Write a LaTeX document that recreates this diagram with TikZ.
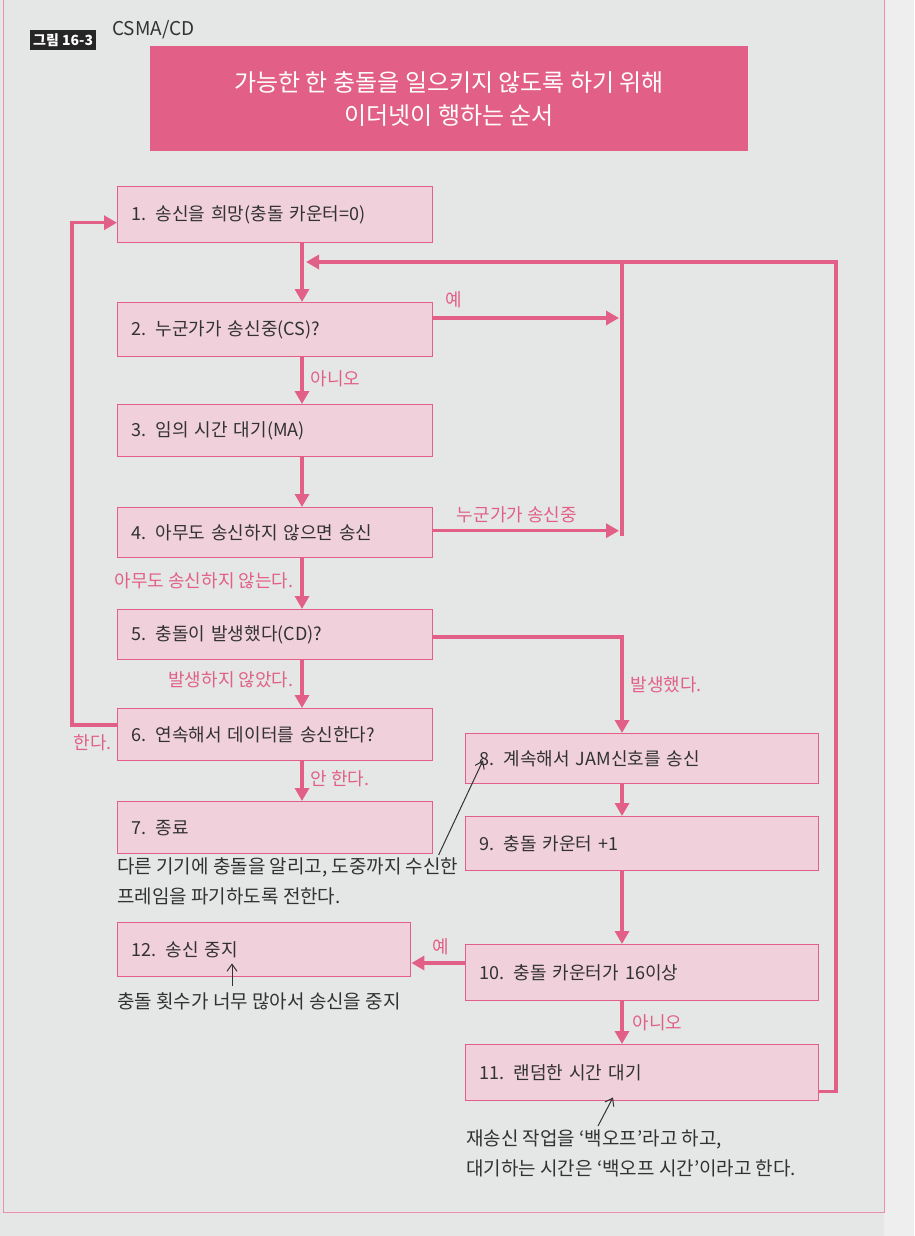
\documentclass[tikz,border=0pt]{standalone}
\usepackage{fontspec}
\setmainfont{Noto Sans CJK KR}
\usetikzlibrary{arrows.meta,calc}
\definecolor{pk}{RGB}{226,96,136}
\definecolor{pkfill}{RGB}{240,208,218}
\definecolor{pagebg}{RGB}{229,231,230}
\definecolor{ink}{RGB}{50,50,50}
\tikzset{
  stepbox/.style={draw=pk, line width=1.4pt, fill=pkfill, anchor=north west,
    minimum width=315pt, inner xsep=14pt, text width=287pt, align=left,
    font=\fontsize{18}{21}\selectfont, text=ink},
  rbox/.style={stepbox, minimum width=353pt, text width=325pt},
  conn/.style={draw=pk, line width=3.4pt, -{Triangle[length=13pt,width=14pt]}},
  pline/.style={draw=pk, line width=3.4pt},
  lbl/.style={text=pk, font=\fontsize{18}{21}\selectfont, inner sep=1pt},
  note/.style={text=ink, font=\fontsize{19}{30}\selectfont, align=left, inner sep=0pt, anchor=north west},
  notearrow/.style={draw=ink, line width=1pt, -{Straight Barb[length=7pt,width=10pt]}},
}
\begin{document}
\begin{tikzpicture}[x=1pt,y=-1pt]
\useasboundingbox (0,0) rectangle (914,1236);
\fill[pagebg] (0,0) rectangle (914,1236);
\fill[pagebg!70!white] (884,0) rectangle (914,1236);
\draw[pk!70, line width=0.8pt] (3,0) -- (3,1212) -- (884,1212) -- (884,0);

% title tag
\node[fill=black!85, text=white, font=\bfseries\fontsize{14}{15}\selectfont, inner xsep=3pt, inner ysep=3pt, anchor=west] (tag) at (30,40) {그림 16-3};
\node[text=ink, font=\fontsize{19}{20}\selectfont, anchor=west, inner sep=0pt] (ttl) at (112,30) {CSMA/CD};

% banner
\node[fill=pk, minimum width=598pt, minimum height=105pt, text=white, font=\fontsize{24}{33}\selectfont, align=center, anchor=north west] (banner) at (150,46) {가능한 한 충돌을 일으키지 않도록 하기 위해\\이더넷이 행하는 순서};

% main column boxes
\node[stepbox, minimum height=56pt] (b1) at (117,186) {1. 송신을 희망(충돌 카운터=0)};
\node[stepbox, minimum height=54pt] (b2) at (117,302) {2. 누군가가 송신중(CS)?};
\node[stepbox, minimum height=52pt] (b3) at (117,404) {3. 임의 시간 대기(MA)};
\node[stepbox, minimum height=50pt] (b4) at (117,507) {4. 아무도 송신하지 않으면 송신};
\node[stepbox, minimum height=50pt] (b5) at (117,609) {5. 충돌이 발생했다(CD)?};
\node[stepbox, minimum height=52pt] (b6) at (117,708) {6. 연속해서 데이터를 송신한다?};
\node[stepbox, minimum height=52pt] (b7) at (117,801) {7. 종료};
\node[stepbox, minimum width=293pt, text width=265pt, minimum height=54pt] (b12) at (117,922) {12. 송신 중지};

% right column boxes
\node[rbox, minimum height=50pt] (b8) at (465,733) {8. 계속해서 JAM신호를 송신};
\node[rbox, minimum height=54pt] (b9) at (465,816) {9. 충돌 카운터 +1};
\node[rbox, minimum height=56pt] (b10) at (465,944) {10. 충돌 카운터가 16이상};
\node[rbox, minimum height=56pt] (b11) at (465,1044) {11. 랜덤한 시간 대기};

% guide coordinates
\coordinate (mc) at (302,0);
\coordinate (rc) at (622,0);
\coordinate (rcl) at (619,0);
\coordinate (top) at (0,262);
\coordinate (far) at (836,0);
\coordinate (lft) at (72,0);

% main vertical flow
\draw[conn] (b1.south -| mc) -- (b2.north -| mc);
\draw[conn] (b2.south -| mc) -- node[lbl, right=6pt, pos=0.45] (l2) {아니오} (b3.north -| mc);
\draw[conn] (b3.south -| mc) -- (b4.north -| mc);
\draw[conn] (b4.south -| mc) -- node[lbl, left=6pt, pos=0.45] (l4) {아무도 송신하지 않는다.} (b5.north -| mc);
\draw[conn] (b5.south -| mc) -- node[lbl, left=6pt, pos=0.4] (l5) {발생하지 않았다.} (b6.north -| mc);
\draw[conn] (b6.south -| mc) -- node[lbl, right=6pt, pos=0.45] (l6) {안 한다.} (b7.north -| mc);

% loop back from 11 to top
\coordinate (x11) at ($(b11.south east)+(0,-10)$);
\coordinate (mctop) at ($(mc |- top)+(4,0)$);
\draw[conn] (x11) -| (far |- top) -- (mctop);
\draw[pline] (rc |- top) -- ($(rc |- b4.east)+(0,3)$);

% CS yes / someone sending
\coordinate (y2) at ($(b2.north east)+(0,16)$);
\draw[conn] (y2) -- node[lbl, above=7pt, pos=0.11] (ly2) {예} (rcl |- y2);
\coordinate (y4) at ($(b4.east)+(0,-2)$);
\draw[conn] (y4) -- node[lbl, above=5pt, pos=0.45] (ly4) {누군가가 송신중} (rcl |- y4);

% collision detected
\coordinate (y5) at ($(b5.north east)+(0,28)$);
\draw[conn] (y5) -| node[lbl, right=6pt, pos=0.75] (ly5) {발생했다.} (b8.north -| rc);

% continue sending: loop to 1
\coordinate (y6) at ($(b6.north west)+(0,17)$);
\coordinate (y1) at ($(b1.west)+(0,8)$);
\draw[conn] (y6) -| (lft |- y1) -- (y1);
\node[lbl, anchor=north east] (l6b) at (113,733) {한다.};

% right column flow
\draw[conn] (b8.south -| rc) -- (b9.north -| rc);
\draw[conn] (b9.south -| rc) -- (b10.north -| rc);
\draw[conn] (b10.south -| rc) -- node[lbl, right=8pt, pos=0.5] (l10) {아니오} (b11.north -| rc);
\coordinate (y10) at ($(b10.north west)+(0,19)$);
\draw[conn] (y10) -- node[lbl, above=5pt, pos=0.45] (ly10) {예} (b12.east |- y10);

% notes
\node[note] (n8) at (117,858) {다른 기기에 충돌을 알리고, 도중까지 수신한\\프레임을 파기하도록 전한다.};
\draw[notearrow] ($(n8.north east)+(-20,-3)$) -- ($(b8.south west)+(18,-24)$);
\node[note] (n12) at (117,992) {충돌 횟수가 너무 많아서 송신을 중지};
\draw[notearrow] ($(n12.north west)+(115,-6)$) -- ($(b12.south west)+(115,-14)$);
\node[note] (n11) at (466,1130) {재송신 작업을 ‘백오프’라고 하고,\\대기하는 시간은 ‘백오프 시간’이라고 한다.};
\draw[notearrow] ($(n11.north west)+(132,-4)$) -- ($(b11.south west)+(148,-4)$);
\end{tikzpicture}
\end{document}
